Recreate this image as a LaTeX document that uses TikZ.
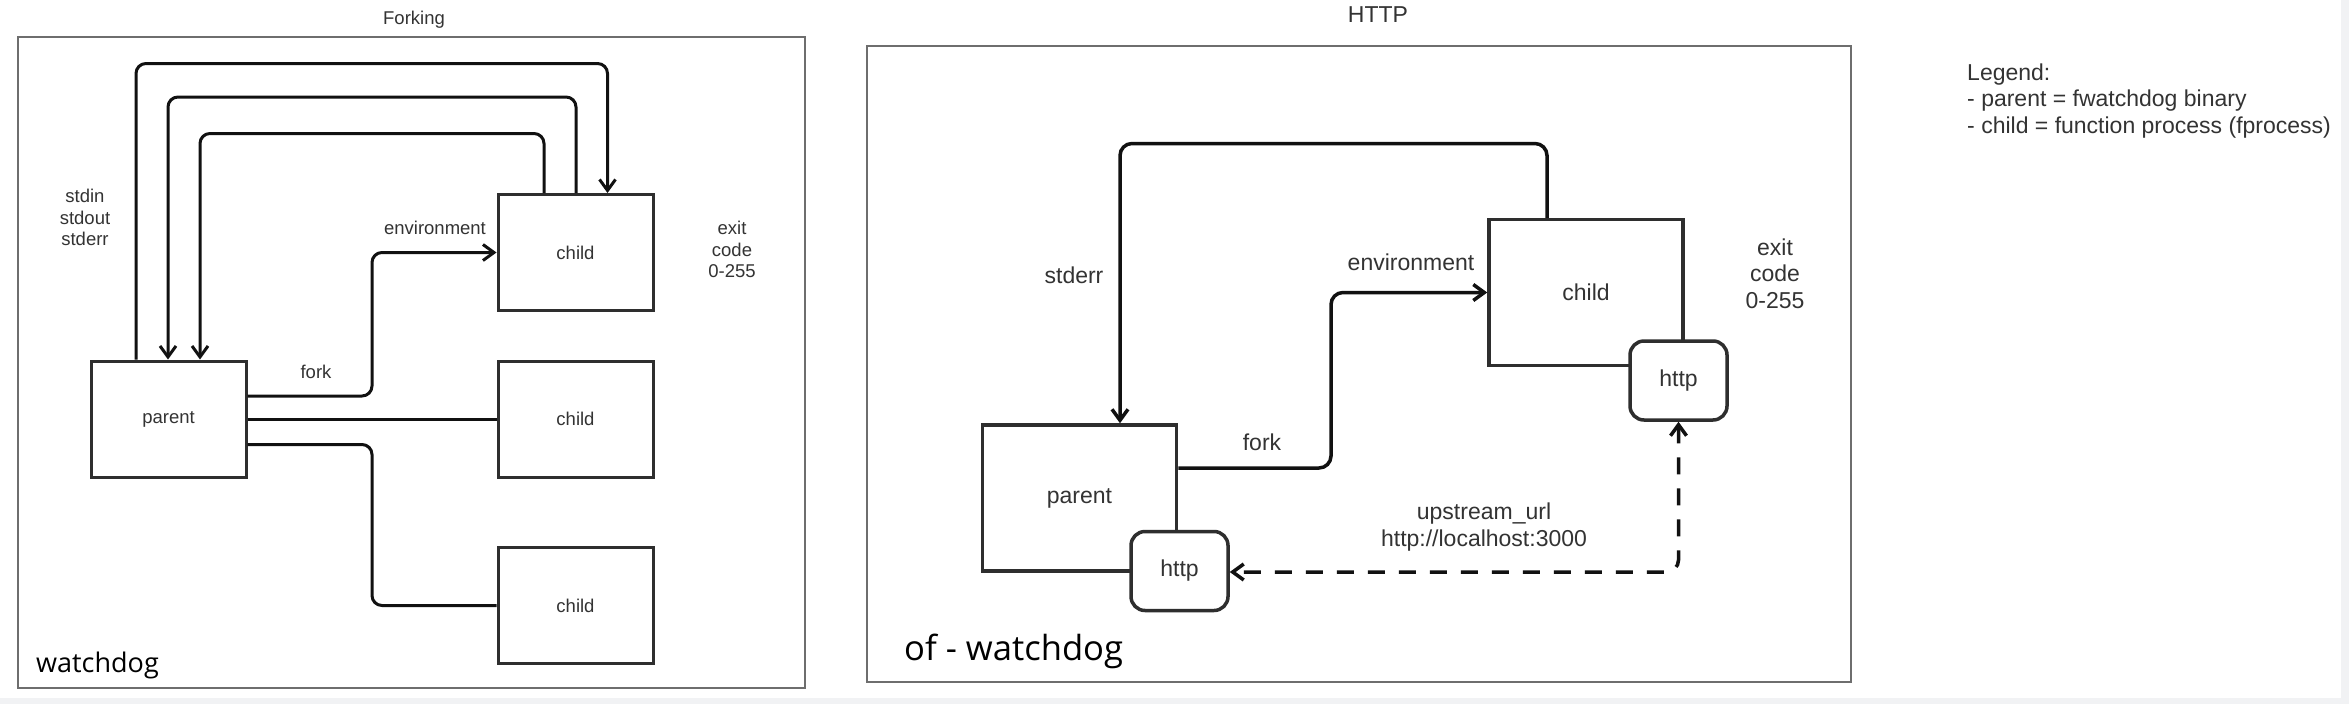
\documentclass[tikz,border=0pt]{standalone}
\usepackage{fontspec}
\setmainfont{Liberation Sans}
\newfontfamily\wdfont{Open Sans}
\usetikzlibrary{arrows.meta}
\definecolor{linec}{HTML}{111111}
\definecolor{boxc}{HTML}{2E2E2E}
\definecolor{framec}{HTML}{6E6E6E}
\definecolor{txtc}{HTML}{333333}
\definecolor{stripc}{HTML}{F1F2F4}
\tikzset{
  frame/.style={draw=framec, line width=2.5pt},
  lbl/.style={inner sep=0pt, text=txtc, align=center},
  lfont/.style={font=\fontsize{18.5}{21.5}\selectfont},
  rfont/.style={font=\fontsize{23}{26.5}\selectfont},
  boxL/.style={draw=boxc, line width=3pt, fill=white, inner sep=0pt, text=txtc, lfont, minimum width=155pt, minimum height=116pt},
  boxR/.style={draw=boxc, line width=3.5pt, fill=white, inner sep=0pt, text=txtc, rfont, minimum width=194pt, minimum height=146pt},
  httpbox/.style={draw=boxc, line width=3.5pt, fill=white, rounded corners=14pt, inner sep=0pt, text=txtc, rfont, minimum width=97pt, minimum height=79pt},
  connL/.style={draw=linec, line width=3pt, rounded corners=10pt},
  connR/.style={draw=linec, line width=3.5pt, rounded corners=12pt},
  arr/.style={-{Straight Barb[length=11pt,width=16pt]}},
  dasharr/.style={{Straight Barb[length=11pt,width=16pt]}-{Straight Barb[length=11pt,width=16pt]}, dash pattern=on 17pt off 14pt}
}
\begin{document}
\begin{tikzpicture}[x=1pt,y=-1pt]
\useasboundingbox (0,0) rectangle (2349,704);
\fill[white] (0,0) rectangle (2349,704);
\fill[stripc] (0,698) rectangle (2349,704);
\fill[stripc] (2341,0) rectangle (2349,704);

% ---------- Forking panel ----------
\node[lbl, lfont] (tForking) at (414,20) {Forking};
\draw[frame] (18,37) rectangle (805,688);

\node[boxL] (parentL) at (168.5,419) {parent};
\node[boxL] (childA) at (575.5,252.5) {child};
\node[boxL] (childB) at (575.5,419) {child};
\node[boxL] (childC) at (575.5,605.5) {child};

\draw[connL, arr] (parentL.north -| 136,0) -- (136,63.5) -- (607.5,63.5) -- (childA.north -| 607.5,0);
\draw[connL, arr] (childA.north -| 576,0) -- (576,97) -- (168,97) -- (parentL.north -| 168,0);
\draw[connL, arr] (childA.north -| 544,0) -- (544,133.5) -- (200,133.5) -- (parentL.north -| 200,0);

\draw[connL, arr] (parentL.east |- 0,396) -- (372,396) -- (372,252.5) -- (childA.west);
\draw[connL] (parentL.east) -- (childB.west);
\draw[connL] (parentL.east |- 0,444.5) -- (372,444.5) -- (372,605.5) -- (childC.west);

\node[lbl, lfont] (tStd) at (85,217.5) {stdin\\stdout\\stderr};
\node[lbl, lfont] (tEnvL) at (435,228) {environment};
\node[lbl, lfont] (tForkL) at (316,372) {fork};
\node[lbl, lfont] (tExitL) at (732,249.5) {exit\\code\\0-255};
\node[inner sep=0pt, anchor=base west, font=\wdfont\fontsize{27}{30}\selectfont, text=black] (tWdL) at (36,672) {watchdog};

% ---------- HTTP panel ----------
\node[lbl, rfont] (tHTTP) at (1378,14.5) {HTTP};
\draw[frame] (867,46) rectangle (1851,682);

\node[boxR] (childR) at (1586,292.5) {child};
\node[boxR] (parentR) at (1079.5,498) {parent};
\node[httpbox] (httpC) at (1678.5,380.5) {http};
\node[httpbox] (httpP) at (1179.5,571) {http};

\draw[connR, arr] (childR.north -| 1547,0) -- (1547,143.5) -- (1120,143.5) -- (parentR.north -| 1120,0);
\draw[connR, arr] (parentR.east |- 0,468) -- (1331,468) -- (1331,292.5) -- (childR.west);
\draw[connR, dasharr] (httpC.south) -- (1678.5,572) -- (httpP.east |- 0,572);

\node[lbl, rfont] (tStdR) at (1074,275) {stderr};
\node[lbl, rfont] (tEnvR) at (1411,262) {environment};
\node[lbl, rfont] (tForkR) at (1262,442) {fork};
\node[lbl, rfont] (tUp) at (1484,527) {upstream\_url\\http://localhost:3000};
\node[lbl, rfont] (tExitR) at (1775,273.5) {exit\\code\\0-255};
\node[inner sep=0pt, anchor=base west, font=\wdfont\fontsize{34.6}{38}\selectfont, text=black] (tWdR) at (904,660) {of - watchdog};

% ---------- Legend ----------
\node[lbl, rfont, align=left, anchor=west] (tLegend) at (1967,101) {Legend:\\- parent = fwatchdog binary\\- child = function process (fprocess)};
\end{tikzpicture}
\end{document}
